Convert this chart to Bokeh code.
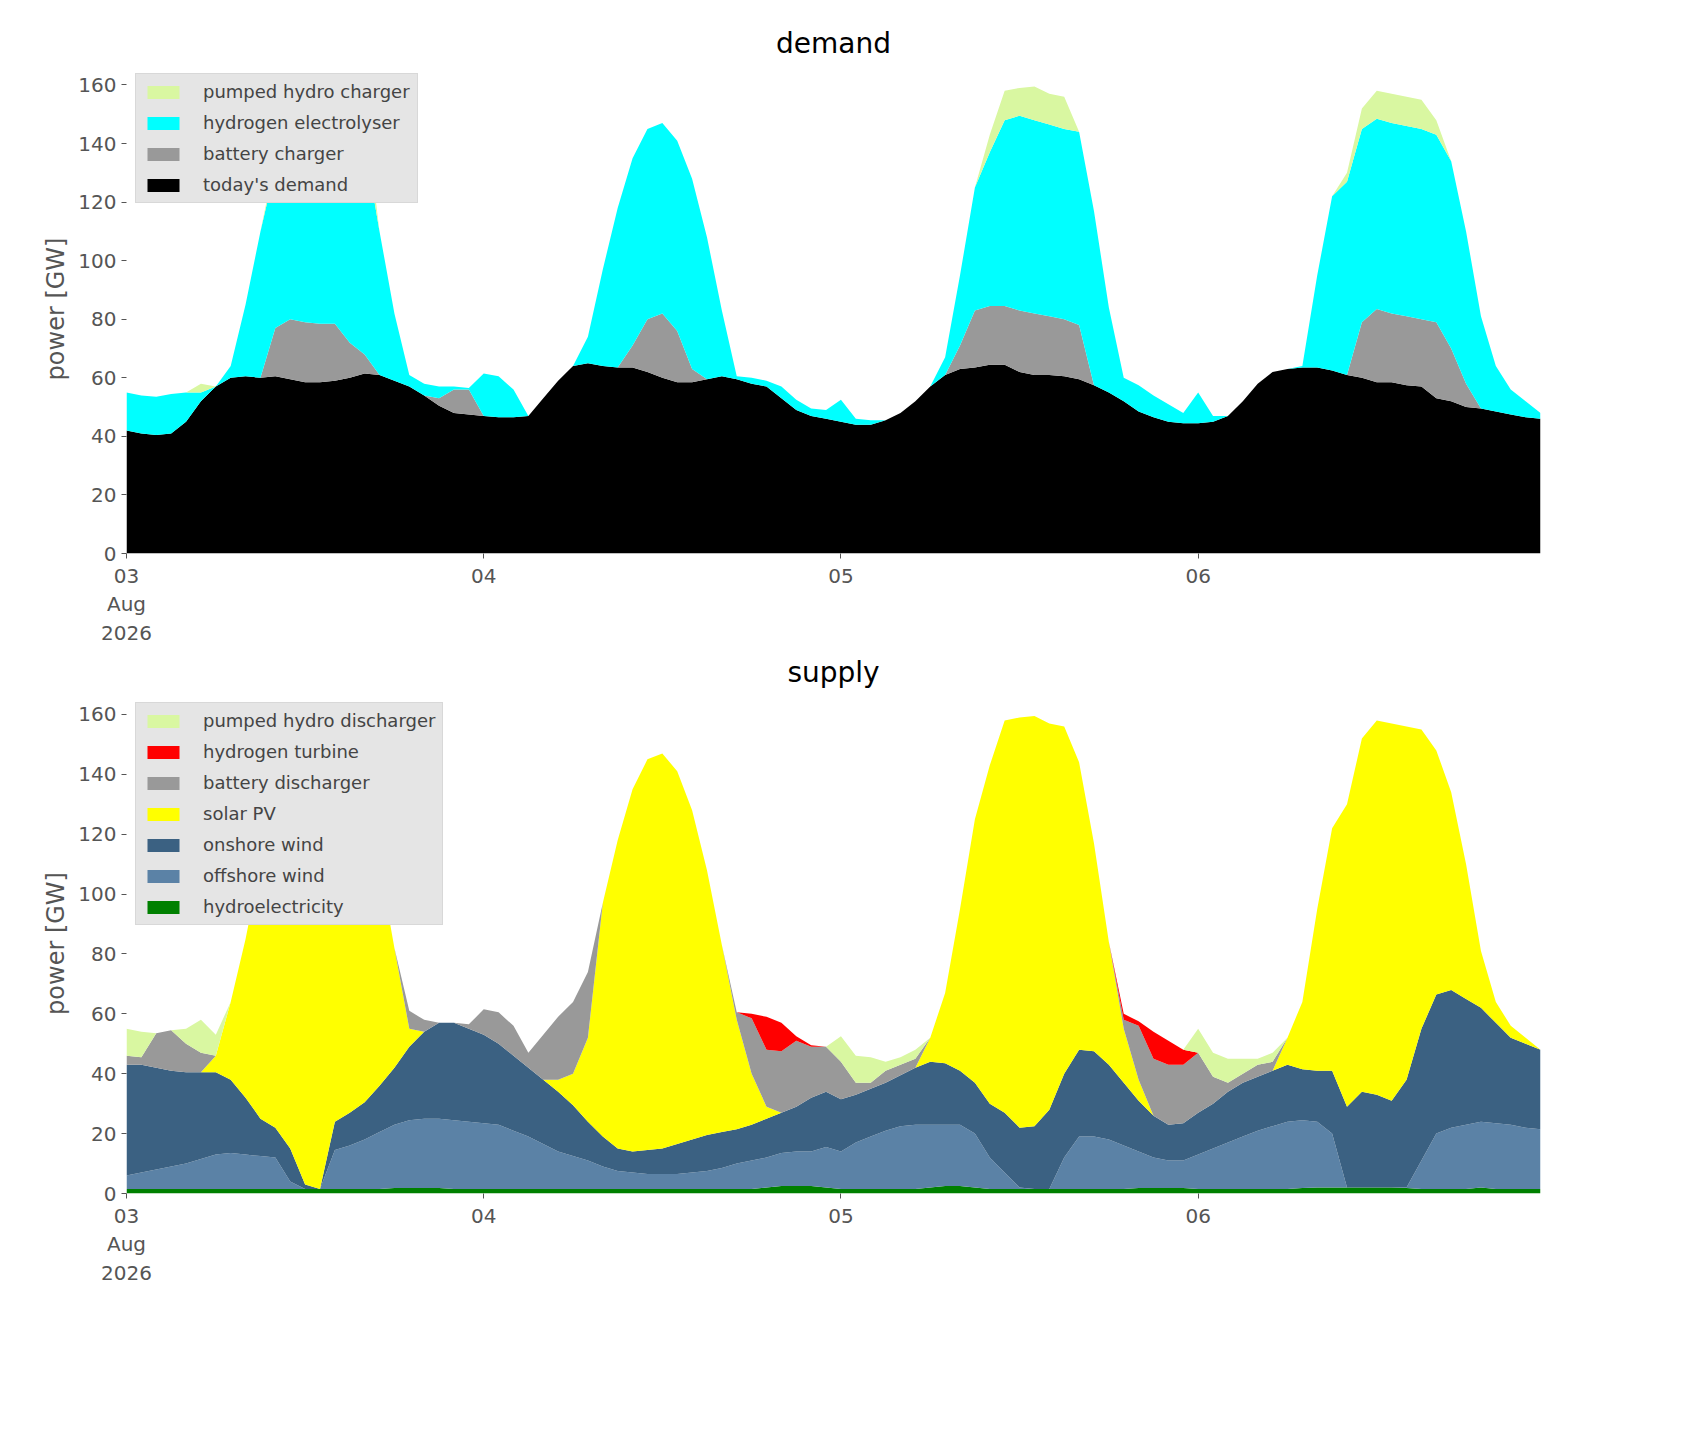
import numpy as np

from bokeh.layouts import column
from bokeh.models import Range1d, FixedTicker, Legend, LegendItem
from bokeh.plotting import figure
from bokeh.embed import file_html
from bokeh.resources import INLINE

# hourly samples, 03 Aug 2026 00:00 .. 06 Aug 23:00
hours = list(range(96))
day_ticks = [0, 24, 48, 72]
day_labels = {0: "03\nAug\n2026", 24: "04", 48: "05", 72: "06"}

# upper edges of each stacked band (GW); 0 = band not visible
total_power = [
    55, 54, 53.5, 54.5, 55, 58, 53, 64, 85, 110,
    135, 155, 153, 153, 153, 153, 153, 110, 82, 61,
    58, 57, 57, 56.5, 61.5, 60.5, 56, 47, 53, 59,
    64, 74, 97, 118, 135, 145, 147, 141, 128, 108,
    83, 60.5, 60, 59, 57, 52.5, 49.5, 49, 52.5, 46,
    45.5, 44, 45.5, 48, 52, 67, 95, 125, 143, 158,
    159, 159.5, 157, 156, 144, 117, 84, 60, 57.5, 54,
    51, 48, 55, 47, 45, 45, 45, 47, 52, 64,
    95, 122, 130, 152, 158, 157, 156, 155, 148, 134,
    110, 81, 64, 56, 52, 48]

# demand side
todays_demand = [
    42, 41, 40.5, 41, 45, 52, 57, 60, 60.5, 60,
    60.5, 59.5, 58.5, 58.5, 59, 60, 61.5, 61, 59, 57,
    54, 50.5, 48, 47.5, 47, 46.5, 46.5, 47, 53, 59,
    64, 65, 64, 63.5, 63.5, 62, 60, 58.5, 58.5, 59.5,
    60.5, 59.5, 58, 57, 53, 49, 47, 46, 45, 44,
    44, 45.5, 48, 52, 57, 61, 63, 63.5, 64.5, 64.5,
    62, 61, 61, 60.5, 59.5, 57.5, 55, 52, 48.5, 46.5,
    45, 44.5, 44.5, 45, 47, 52, 58, 62, 63, 63.5,
    63.5, 62.5, 61, 60, 58.5, 58.5, 57.5, 57, 53, 52,
    50, 49.5, 48.5, 47.5, 46.5, 46]
battery_charger = [
    0, 0, 0, 0, 0, 0, 0, 0, 0, 0,
    77, 80, 79, 78.5, 78.5, 72, 68, 0, 0, 0,
    0, 53, 56, 56, 0, 0, 0, 0, 0, 0,
    0, 0, 0, 0, 71, 80, 82, 76, 63, 0,
    0, 0, 0, 0, 0, 0, 0, 0, 0, 0,
    0, 0, 0, 0, 0, 0, 71, 83, 84.5, 84.5,
    83, 82, 81, 80, 78, 0, 0, 0, 0, 0,
    0, 0, 0, 0, 0, 0, 0, 0, 0, 0,
    0, 0, 0, 79, 83.5, 82, 81, 80, 79, 70,
    58, 0, 0, 0, 0, 0]
hydrogen_electrolyser = [
    55, 54, 53.5, 54.5, 55, 55, 53, 64, 85, 110,
    132, 145, 146, 146, 146, 145, 140, 110, 82, 61,
    58, 57, 57, 56.5, 61.5, 60.5, 56, 47, 53, 59,
    64, 74, 97, 118, 135, 145, 147, 141, 128, 108,
    83, 60.5, 60, 59, 57, 52.5, 49.5, 49, 52.5, 46,
    45.5, 44, 45.5, 48, 52, 67, 95, 125, 137, 148,
    149.5, 148, 146.5, 145, 144, 117, 84, 60, 57.5, 54,
    51, 48, 55, 47, 45, 45, 45, 47, 52, 64,
    95, 122, 127, 145, 148.5, 147, 146, 145, 143, 134,
    110, 81, 64, 56, 52, 48]

# supply side
hydroelectricity = [
    1.5, 1.5, 1.5, 1.5, 1.5, 1.5, 1.5, 1.5, 1.5, 1.5,
    1.5, 1.5, 1.5, 1.5, 1.5, 1.5, 1.5, 1.5, 1.8, 1.8,
    1.8, 1.8, 1.5, 1.5, 1.5, 1.5, 1.5, 1.5, 1.5, 1.5,
    1.5, 1.5, 1.5, 1.5, 1.5, 1.5, 1.5, 1.5, 1.5, 1.5,
    1.5, 1.5, 1.5, 2, 2.5, 2.5, 2.5, 2, 1.5, 1.5,
    1.5, 1.5, 1.5, 1.5, 2, 2.5, 2.5, 2, 1.5, 1.5,
    1.5, 1.5, 1.5, 1.5, 1.5, 1.5, 1.5, 1.5, 1.8, 1.8,
    1.8, 1.8, 1.5, 1.5, 1.5, 1.5, 1.5, 1.5, 1.5, 1.8,
    2, 2, 2, 2, 2, 2, 1.8, 1.5, 1.5, 1.5,
    1.5, 2, 1.5, 1.5, 1.5, 1.5]
offshore_wind = [
    6, 7, 8, 9, 10, 11.5, 13, 13.5, 13, 12.5,
    12, 4, 1.5, 1, 14.5, 16, 18, 20.5, 23, 24.5,
    25, 25, 24.5, 24, 23.5, 23, 21, 19, 16.5, 14,
    12.5, 11, 9, 7.5, 7, 6.5, 6.5, 6.5, 7, 7.5,
    8.5, 10, 11, 12, 13.5, 14, 14, 15.5, 14, 17,
    19, 21, 22.5, 23, 23, 23, 23, 20, 12, 7,
    2, 1.5, 1.5, 12, 19, 19, 18, 16, 14, 12,
    11, 11, 13, 15, 17, 19, 21, 22.5, 24, 24.5,
    24, 20, 2, 2, 2, 2, 2, 11, 20, 22,
    23, 24, 23.5, 23, 22, 21.5]
onshore_wind = [
    43, 43, 42, 41, 40.5, 40.5, 40.5, 38, 32, 25,
    22, 15, 3, 1, 24, 27, 30.5, 36, 42, 49,
    54, 57, 57, 55, 53, 50, 46, 42, 38, 34,
    29.5, 24, 19, 15, 14, 14.5, 15, 16.5, 18, 19.5,
    20.5, 21.5, 23, 25, 27, 29, 32, 34, 31.5, 33,
    35, 37, 39.5, 42, 44, 43.5, 41, 37, 30, 27,
    22, 22.5, 28, 40, 48, 47.5, 43, 37, 31, 26,
    23, 23.5, 27, 30, 34, 37, 39, 41, 43, 41.5,
    41, 41, 29, 34, 33, 31, 38, 55, 66.5, 68,
    65, 62, 57, 52, 50, 48]
solar_pv = [
    0, 0, 0, 0, 0, 0, 46, 64, 85, 110,
    135, 155, 153, 153, 153, 153, 153, 110, 82, 55,
    0, 0, 0, 0, 0, 0, 0, 0, 0, 38,
    40, 52, 97, 118, 135, 145, 147, 141, 128, 108,
    83, 58, 40, 29, 0, 0, 0, 0, 0, 0,
    0, 0, 0, 0, 52, 67, 95, 125, 143, 158,
    159, 159.5, 157, 156, 144, 117, 84, 55, 38, 0,
    0, 0, 0, 0, 0, 0, 0, 0, 52, 64,
    95, 122, 130, 152, 158, 157, 156, 155, 148, 134,
    110, 81, 64, 56, 52, 0]
battery_discharger = [
    46, 45.5, 53.5, 54.5, 50, 47, 0, 0, 0, 0,
    0, 0, 0, 0, 0, 0, 0, 0, 0, 61,
    58, 0, 57, 56.5, 61.5, 60.5, 56, 47, 53, 59,
    64, 74, 0, 0, 0, 0, 0, 0, 0, 0,
    0, 60.5, 58.5, 48, 47.5, 51, 49, 49, 44, 37,
    37, 41, 43, 45, 0, 0, 0, 0, 0, 0,
    0, 0, 0, 0, 0, 0, 0, 58, 56, 45,
    43, 43, 47, 39, 37, 40, 43, 44, 0, 0,
    0, 0, 0, 0, 0, 0, 0, 0, 0, 0,
    0, 0, 0, 0, 0, 0]
hydrogen_turbine = [
    0, 0, 0, 0, 0, 0, 0, 0, 0, 0,
    0, 0, 0, 0, 0, 0, 0, 0, 0, 0,
    0, 0, 0, 0, 0, 0, 0, 0, 0, 0,
    0, 0, 0, 0, 0, 0, 0, 0, 0, 0,
    0, 0, 60, 59, 57, 52.5, 49.5, 0, 0, 0,
    0, 0, 0, 0, 0, 0, 0, 0, 0, 0,
    0, 0, 0, 0, 0, 0, 0, 60, 57.5, 54,
    51, 48, 0, 0, 0, 0, 0, 0, 0, 0,
    0, 0, 0, 0, 0, 0, 0, 0, 0, 0,
    0, 0, 0, 0, 0, 0]

FONT = "DejaVu Sans"
GREY = "#555555"


def make_panel(title, layers, height, top_border):
    p = figure(width=1552, height=height, title=title,
               x_range=Range1d(0, 95), y_range=Range1d(0, 167),
               toolbar_location=None, tools="", output_backend="svg",
               min_border_left=126, min_border_right=12, min_border_top=top_border,
               background_fill_color="white", outline_line_color=None)
    p.title.align = "center"
    p.title.text_font = FONT
    p.title.text_font_size = "28px"
    p.title.text_font_style = "normal"
    p.title.text_color = "black"

    items = []
    prev = np.zeros(len(hours))
    for label, edge, colour in layers:
        cur = np.maximum(np.array(edge, dtype=float), prev)
        r = p.varea(x=hours, y1=prev, y2=cur, fill_color=colour, fill_alpha=1.0)
        items.append(LegendItem(label=label, renderers=[r]))
        prev = cur

    legend = Legend(items=items[::-1], location="top_left",
                    background_fill_color="#e5e5e5", background_fill_alpha=1.0,
                    border_line_color="#cccccc", label_text_font=FONT,
                    label_text_font_size="18px", glyph_width=40, glyph_height=16,
                    spacing=10, padding=7, margin=9, label_standoff=20)
    p.add_layout(legend)

    p.xgrid.grid_line_color = None
    p.ygrid.grid_line_color = None
    p.xaxis.ticker = FixedTicker(ticks=day_ticks)
    p.xaxis.major_label_overrides = day_labels
    p.yaxis.ticker = FixedTicker(ticks=[0, 20, 40, 60, 80, 100, 120, 140, 160])
    p.yaxis.axis_label = "power [GW]"
    for ax in (p.xaxis, p.yaxis):
        ax.axis_line_color = None
        ax.major_tick_line_color = GREY
        ax.minor_tick_line_color = None
        ax.major_label_text_font = FONT
        ax.major_label_text_font_size = "20px"
        ax.major_label_text_color = GREY
        ax.major_tick_out = 5
        ax.major_tick_in = 0
    p.yaxis.axis_label_text_font = FONT
    p.yaxis.axis_label_text_font_size = "24px"
    p.yaxis.axis_label_text_font_style = "normal"
    p.yaxis.axis_label_text_color = GREY
    return p


demand = make_panel("demand", [
    ("today's demand", todays_demand, "black"),
    ("battery charger", battery_charger, "#999999"),
    ("hydrogen electrolyser", hydrogen_electrolyser, "#00ffff"),
    ("pumped hydro charger", total_power, "#d9f7a1"),
], 648, 64)

supply = make_panel("supply", [
    ("hydroelectricity", hydroelectricity, "#008000"),
    ("offshore wind", offshore_wind, "#5b82a6"),
    ("onshore wind", onshore_wind, "#3b6182"),
    ("solar PV", solar_pv, "#ffff00"),
    ("battery discharger", battery_discharger, "#999999"),
    ("hydrogen turbine", hydrogen_turbine, "#ff0000"),
    ("pumped hydro discharger", total_power, "#d9f7a1"),
], 640, 10)

layout = column(demand, supply, spacing=0)
open("out.html", "w").write(file_html(layout, INLINE))
